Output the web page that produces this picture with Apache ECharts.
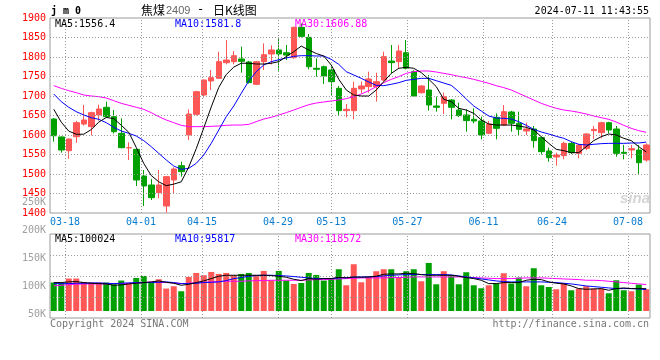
<!DOCTYPE html>
<html><head><meta charset="utf-8">
<script src="https://cdn.jsdelivr.net/npm/echarts@6/dist/echarts.min.js"></script>
<style>html,body{margin:0;padding:0;background:#fff}#c{width:660px;height:360px}</style>
</head><body><div id="c"></div>
<script>
// ---- data ----
const dates = ['03-14','03-15','03-18','03-19','03-20','03-21','03-22','03-25','03-26','03-27',
 '03-28','03-29','04-01','04-02','04-03','04-08','04-09','04-10','04-11','04-12',
 '04-15','04-16','04-17','04-18','04-19','04-22','04-23','04-24','04-25','04-26',
 '04-29','04-30','05-06','05-07','05-08','05-09','05-10','05-13','05-14','05-15',
 '05-16','05-17','05-20','05-21','05-22','05-23','05-24','05-27','05-28','05-29',
 '05-30','05-31','06-03','06-04','06-05','06-06','06-07','06-11','06-12','06-13',
 '06-14','06-17','06-18','06-19','06-20','06-21','06-24','06-25','06-26','06-27',
 '06-28','07-01','07-02','07-03','07-04','07-05','07-08','07-09','07-10','07-11'];
const tickLabels = ['03-18','04-01','04-15','04-29','05-13','05-27','06-11','06-24','07-08'];
const priceTicks = [1400,1450,1500,1550,1600,1650,1700,1750,1800,1850,1900];
const volTicks = [50000,100000,150000,200000,250000];
const volFrameTicks = [0,1,2,3,4];

const open = [1641,1595,1559.8,1595.7,1628.2,1621.4,1651.3,1671,1647,1604.3,
 1567,1563.2,1494.9,1471.8,1452.1,1417.9,1484.6,1521.4,1600,1653,
 1702.6,1738.5,1745.3,1785.5,1788,1794.9,1787.2,1729.9,1788,1807.7,
 1818,1811,1798.3,1876,1850.4,1771,1775.2,1766.7,1719.6,1662.4,
 1662.4,1718,1724,1724,1741,1789.7,1788,1811,1762.4,1708.5,
 1715.4,1674.4,1681.2,1689.7,1664.1,1651.3,1640.2,1635.9,1604.3,1645.3,
 1625.6,1659,1630,1610.3,1615.4,1593.2,1559,1543.6,1547,1578.6,
 1553,1565.8,1611.1,1606,1631.6,1615.4,1555.6,1561.5,1561.5,1535.9];
const close = [1598,1561.5,1589.7,1631.6,1638.5,1657.3,1666.7,1647,1608.5,1567.5,
 1567.5,1484.6,1469.2,1439.3,1471.8,1493.2,1512.8,1506,1653.8,1711.1,
 1741,1747,1788,1792.3,1803.4,1788.9,1734.2,1788,1806,1818,
 1807.7,1805,1876,1853,1775.2,1768.4,1751.3,1736.8,1662.4,1665.8,
 1719.6,1725.7,1743.6,1736.8,1800.9,1785.5,1815.4,1771,1700,1725.7,
 1677,1671,1698.3,1671,1649.6,1636.8,1635.9,1600,1628.2,1617.1,
 1659.8,1630,1614.5,1615.4,1585.5,1557.3,1541.9,1548.7,1578.6,1554.7,
 1574.4,1602.6,1614.5,1631.6,1612.8,1553,1553,1565,1529,1574.4];
const low = [1583,1554.7,1539.3,1580,1624,1599.1,1636.7,1645,1604,1566,
 1535.9,1469.2,1417.9,1433.3,1437.6,1401,1448.7,1493.2,1587.2,1650,
 1695.7,1715.4,1744,1781.2,1781.2,1759.8,1732,1728,1766.7,1781,
 1765,1792.3,1795,1850,1768.4,1749.6,1730.8,1700,1648.7,1645.3,
 1640.2,1706.8,1708.5,1685.5,1736.8,1758.1,1771,1768,1698.3,1706,
 1662.4,1659.8,1653.8,1640.2,1646,1608.5,1630,1588.9,1602,1588.9,
 1623,1608.5,1600,1600,1567.5,1550,1531.6,1521.4,1537.6,1551.3,
 1540.2,1561.5,1589.7,1591.5,1604.3,1544.4,1537.6,1540.2,1500.3,1531.6];
const high = [1643,1596,1591,1636,1676.9,1660,1677.8,1685.5,1664,1642.7,
 1581.2,1564,1510.3,1487.2,1510.3,1495,1517,1531.6,1665.8,1713,
 1742,1766.7,1813.7,1843.6,1815.4,1826.5,1790,1790,1835,1830,
 1847.9,1830.8,1878,1886,1859,1796.6,1778,1775.2,1725.7,1679.5,
 1736.8,1736.8,1762.4,1759.8,1813.7,1830.8,1830.8,1843.6,1766,1728,
 1753.8,1698.3,1708.5,1692,1682.9,1665.8,1668.4,1647,1636,1655.5,
 1677,1662,1659.8,1631.6,1623,1596,1567.5,1554.7,1582.9,1582.9,
 1577,1604,1623,1634,1634,1623,1574.4,1574.4,1574.4,1578.6];

const ma5 = [1666,1633,1610,1602,1602,1614,1633,1645,1642,1625,
 1607,1568,1527,1496,1480,1470,1474,1480,1518,1565,
 1618,1672,1722,1755,1774,1784,1784,1782,1782,1784,
 1788,1801,1813.7,1828,1818,1809,1802.5,1779.5,1743,1715.4,
 1702.6,1700,1700,1715.4,1736.8,1758,1771,1773.5,1771,1760,
 1743,1724,1691.5,1685.5,1668.4,1664,1655.5,1638.5,1628.2,1625.6,
 1625.6,1625.6,1623,1619.7,1612.8,1595.7,1578.6,1563.3,1559.8,1554.7,
 1554.7,1570,1585.5,1595.7,1602.6,1600,1591.5,1585.5,1570,1556.4];
const ma10 = [1705.1,1685.5,1671,1659.8,1651.3,1644.4,1640.2,1631.6,1619.7,1610.3,
 1604.3,1597.4,1585.5,1570.1,1553,1535.9,1520.5,1512,1514.5,1527.4,
 1548.7,1578.6,1612.8,1647,1674.4,1706.8,1738.5,1762.4,1779.5,1788,
 1793,1797.4,1801.7,1803.4,1803.4,1802.6,1802.6,1794,1781.2,1762.4,
 1753.8,1745.3,1735.9,1727.3,1726.5,1730,1734.2,1740.2,1742.7,1745.3,
 1745.3,1739.3,1733.3,1727.3,1711.1,1692.3,1674.4,1661.5,1648.7,1643.6,
 1642.7,1641,1634.2,1624.8,1614.5,1607.7,1602.6,1596.6,1591.5,1583,
 1576.1,1574.4,1576.1,1577.8,1578.6,1578.6,1578.6,1579.5,1579.5,1581.8];
const ma30 = [1726.5,1719.6,1713.7,1708.5,1702.6,1700,1698.3,1694.9,1688,1681.2,
 1676.1,1671,1665.8,1657.3,1647,1638.5,1631.6,1624.8,1621.4,1621.4,
 1621.4,1622.2,1623.1,1624.8,1625.6,1625.6,1627.3,1634.2,1641,1645.3,
 1651.3,1657.3,1664.1,1671,1677.8,1682,1684.6,1687.2,1689.7,1693.2,
 1698.3,1705.1,1713.7,1723.9,1734.2,1742.7,1749.6,1758.1,1762.4,1764.1,
 1764.1,1761.5,1758.1,1754.7,1750.4,1747,1742.7,1737.6,1732.5,1726.5,
 1721.4,1715.4,1706.8,1698.3,1689.7,1681.2,1674.4,1668.4,1664.1,1661.5,
 1658.1,1653.8,1648.7,1644.4,1640.2,1633.3,1624.8,1617.1,1611.1,1606.88];

const volume = [127200,127200,145200,145200,129900,127200,127200,127200,119600,136200,
 122800,147800,156800,127200,142000,100400,110700,88300,152300,170200,
 159900,174700,165800,170200,159900,165800,170200,159900,179200,137500,
 179200,136200,121000,125400,170200,161300,136200,145200,186800,115100,
 209200,128600,152300,177900,186800,186800,152300,177900,186800,133100,
 215000,119600,177900,159900,119600,173400,115100,101700,115100,122800,
 168900,122800,149600,110700,191300,115100,107500,97200,125400,92700,
 100400,110700,100400,100400,79300,137500,92700,88300,118300,97200];
const volMa5 = [127100,127100,130100,131600,127100,124100,122600,121100,115100,116600,
 121100,124100,127100,130100,134600,128600,124100,115100,119600,127100,
 134600,145000,155400,159900,159900,159900,159900,159900,159900,158400,
 155400,150900,142000,136000,145000,142000,145000,145000,150900,148000,
 152500,150900,152500,155400,164400,165900,165900,168900,167400,162900,
 159900,159900,159900,159900,155400,149500,145000,137500,122600,122600,
 127100,127100,127100,137500,142000,140500,130100,124100,121100,112100,
 100200,97200,98700,100200,92700,100200,103200,100200,100200,100024];
const volMa10 = [122600,122600,122600,124100,124100,125600,125600,124100,122600,124100,
 125600,127100,127100,127100,128600,130100,127100,122600,122600,124100,
 127100,128600,130100,136000,145000,149500,155400,158400,159900,159900,
 158400,156900,154000,150900,148000,145000,145000,145000,148000,149500,
 150900,152500,152500,154000,156900,159900,161400,162900,162900,162900,
 162900,162900,162900,161400,156900,152500,148000,143500,139000,134600,
 131600,130100,130100,130100,130100,130100,128600,127100,124100,121100,
 116600,112100,109100,106200,103200,100200,100200,100200,98700,95817];
const volMa30 = [112100,115100,118100,119600,121100,121100,121100,121100,122600,122600,
 124100,124100,127100,130100,128600,127100,125600,122600,124100,127100,
 128600,130100,131600,133100,133100,133100,134600,136000,136000,137500,
 137500,137500,137500,137500,139000,140500,140500,142000,143500,145000,
 146500,148000,148000,148000,148000,149500,149500,150900,152500,152500,
 152500,152500,152500,152500,152500,150900,149500,148000,146500,145000,
 145000,145000,146500,148000,148000,148000,146500,145000,143500,142000,
 140500,137500,137500,136000,133100,130100,127100,124100,121100,118572];

// ---- styling ----
const RED = '#ff5656', GREEN = '#00a000';
const MONO = '"DejaVu Sans Mono", monospace';
const GRIDC = '#9a9a9a';
const X_MIN = 0.03, X_MAX = 78.89;   // reference grid/label scale (date index)
const tickIdx = tickLabels.map(l => dates.indexOf(l));
const gridLineStyle = {color:GRIDC, type:[1,2], width:1};

// helper (invisible) series spanning the grid; it carries the dotted reference grid as markLines
function gridHelper(xi, yi, xs, yTicks) {
  const y0 = yTicks[0], y1 = yTicks[yTicks.length-1];
  const vLines = xs.map(v => [{coord:[v, y0]}, {coord:[v, y1]}]);
  const hLines = yTicks.slice(1, -1).map(v => [{coord:[X_MIN, v]}, {coord:[X_MAX, v]}]);
  return {type:'line', xAxisIndex:xi, yAxisIndex:yi, data:[[X_MIN, y0], [X_MAX, y1]], symbol:'none',
    lineStyle:{opacity:0}, silent:true, z:1, clip:false,
    markLine:{symbol:'none', silent:true, animation:false, label:{show:false},
      emphasis:{disabled:true}, lineStyle:gridLineStyle,
      data:vLines.concat(hLines)}};
}

const chart = echarts.init(document.getElementById('c'), null, {renderer:'canvas'});
const T = (text, x, y, fill, font, align) => ({type:'text', x:x, y:y, silent:true, z:100,
  style:{text:text, fill:fill, font:font, textAlign:align||'left', textVerticalAlign:'middle'}});

chart.setOption({
  animation:false,
  backgroundColor:'#fff',
  grid:[
    {left:50, right:10, top:18, bottom:147, show:true, borderColor:'#9a9a9a', borderWidth:1, backgroundColor:'rgba(0,0,0,0)'},
    {left:50, right:10, top:234, bottom:42, show:true, borderColor:'#9a9a9a', borderWidth:1, backgroundColor:'rgba(0,0,0,0)'},
    {left:50, right:10, top:235, bottom:49},
    {left:50, right:10, top:202, bottom:46}
  ],
  xAxis:[
    {type:'category', gridIndex:0, data:dates, boundaryGap:true, show:false},
    {type:'value', gridIndex:0, min:X_MIN, max:X_MAX, position:'bottom',
      axisLine:{show:false}, axisTick:{show:false, customValues:tickIdx},
      axisLabel:{customValues:tickIdx, color:'#0a7ccf', fontFamily:MONO, fontSize:10, margin:4,
        formatter:v => dates[Math.round(v)]},
      splitLine:{show:false}},
    {type:'value', gridIndex:1, min:X_MIN, max:X_MAX, show:false, splitLine:{show:false}},
    {type:'category', gridIndex:2, data:dates, boundaryGap:true, show:false},
    {type:'category', gridIndex:3, data:dates, boundaryGap:true, show:false}
  ],
  yAxis:[
    {type:'value', gridIndex:0, min:priceTicks[0], max:priceTicks[priceTicks.length-1],
      interval:priceTicks[1]-priceTicks[0],
      axisLine:{show:false}, axisTick:{show:false},
      axisLabel:{color:'#ff0000', fontFamily:MONO, fontSize:10, margin:4, formatter:v => String(v)},
      splitLine:{show:false}},
    {type:'value', gridIndex:1, min:volFrameTicks[0], max:volFrameTicks[volFrameTicks.length-1], show:false, splitLine:{show:false}},
    {type:'value', gridIndex:2, min:0, max:340000, show:false, splitLine:{show:false}},
    {type:'value', gridIndex:3, min:volTicks[0], max:volTicks[volTicks.length-1],
      interval:volTicks[1]-volTicks[0], axisLine:{show:false}, axisTick:{show:false},
      splitLine:{show:false},
      axisLabel:{color:'#a0a0a0', fontFamily:MONO, fontSize:10, margin:4,
        formatter:v => (v/1000)+'K'}}
  ],
  series:[
    gridHelper(1, 0, tickIdx, priceTicks),
    gridHelper(2, 1, tickIdx, volFrameTicks),
    {type:'candlestick', xAxisIndex:0, yAxisIndex:0, barWidth:6, z:2,
      data: dates.map((d,i) => [open[i], close[i], low[i], high[i]]),
      itemStyle:{color:RED, color0:GREEN, borderColor:RED, borderColor0:GREEN, borderWidth:1}},
    {type:'line', xAxisIndex:0, yAxisIndex:0, data:ma30, symbol:'none', lineStyle:{color:'#ff00ff', width:1}, z:4},
    {type:'line', xAxisIndex:0, yAxisIndex:0, data:ma10, symbol:'none', lineStyle:{color:'#0000ff', width:1}, z:5},
    {type:'line', xAxisIndex:0, yAxisIndex:0, data:ma5, symbol:'none', lineStyle:{color:'#000000', width:1}, z:6},
    {type:'bar', xAxisIndex:3, yAxisIndex:2, barWidth:6, z:2,
      data: volume.map((v,i) => ({value:v, itemStyle:{color: close[i] >= open[i] ? RED : GREEN}}))},
    {type:'line', xAxisIndex:3, yAxisIndex:2, data:volMa30, symbol:'none', lineStyle:{color:'#ff00ff', width:1}, z:4},
    {type:'line', xAxisIndex:3, yAxisIndex:2, data:volMa10, symbol:'none', lineStyle:{color:'#0000ff', width:1}, z:5},
    {type:'line', xAxisIndex:3, yAxisIndex:2, data:volMa5, symbol:'none', lineStyle:{color:'#000000', width:1}, z:6}
  ],
  graphic:[
    T('j m 0', 51, 11.5, '#000', 'bold 10px '+MONO),
    T('焦煤', 141, 10, '#000', '12px "Noto Sans CJK SC"'),
    T('2409', 166, 10.5, '#666', '11px "Liberation Sans"'),
    T('-', 197, 10, '#000', '12px '+MONO),
    T('日K线图', 213, 10, '#000', '12px "Noto Sans CJK SC"'),
    T('2024-07-11 11:43:55', 649, 11.5, '#000', '10px '+MONO, 'right'),
    T('MA5:1556.4', 55, 24, '#000', '10px '+MONO),
    T('MA10:1581.8', 175, 24, '#0000ff', '10px '+MONO),
    T('MA30:1606.88', 295, 24, '#ff00ff', '10px '+MONO),
    T('MA5:100024', 55, 239, '#000', '10px '+MONO),
    T('MA10:95817', 175, 239, '#0000ff', '10px '+MONO),
    T('MA30:118572', 295, 239, '#ff00ff', '10px '+MONO),
    T('Copyright 2024 SINA.COM', 50, 324, '#777', '10px '+MONO),
    T('http://finance.sina.com.cn', 649, 324, '#777', '10px '+MONO, 'right'),
    T('sina', 650, 199, '#d4d4d4', 'italic bold 15px "Liberation Sans"', 'right')
  ]
});
</script>
</body></html>
